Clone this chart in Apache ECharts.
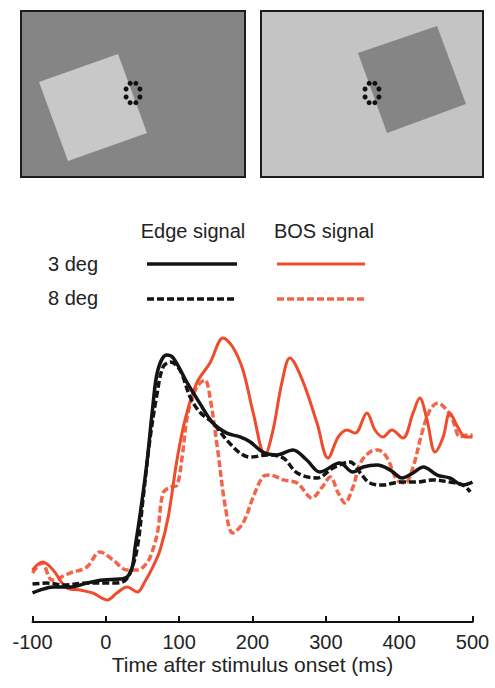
<!DOCTYPE html>
<html>
<head>
<meta charset="utf-8">
<script src="https://cdn.jsdelivr.net/npm/echarts@6/dist/echarts.min.js"></script>
<style>
html,body{margin:0;padding:0;background:#fff;}
#chart{width:495px;height:688px;}
</style>
</head>
<body>
<div id="chart"></div>
<script>
// Time after stimulus onset (ms), normalized response
var xTicks = [-100, 0, 100, 200, 300, 400, 500];
var xTitle = 'Time after stimulus onset (ms)';
var columnLabels = ['Edge signal', 'BOS signal'];
var rowLabels = ['3 deg', '8 deg'];

var edge3deg = [
  [-100,-0.029],[-90,-0.017],[-72,-0.004],[-49,-0.004],[-26,0.012],[-4,0.025],[19,0.029],[29,0.037],
  [36,0.079],[40,0.162],[47,0.304],[56,0.512],[64,0.746],[71,0.9],[83,0.962],[92,0.95],[111,0.846],
  [128,0.762],[146,0.679],[165,0.637],[183,0.621],[197,0.6],[214,0.558],[233,0.546],[255,0.567],
  [274,0.525],[292,0.475],[319,0.512],[337,0.475],[351,0.496],[370,0.504],[388,0.483],[404,0.45],
  [419,0.471],[433,0.496],[452,0.462],[469,0.45],[487,0.421],[500,0.433]
];
var edge8deg = [
  [-100,0.008],[-80,0.012],[-58,0.004],[-26,0.012],[6,0.012],[23,0.017],[33,0.054],[43,0.162],
  [51,0.371],[60,0.608],[70,0.804],[78,0.912],[88,0.933],[101,0.9],[115,0.787],[128,0.725],
  [146,0.679],[165,0.608],[183,0.554],[197,0.537],[220,0.546],[242,0.533],[261,0.471],[288,0.45],
  [310,0.492],[333,0.517],[347,0.471],[360,0.429],[378,0.421],[401,0.433],[424,0.433],[446,0.442],
  [469,0.433],[487,0.421],[497,0.392]
];
var bos3deg = [
  [-100,0.067],[-86,0.1],[-72,0.067],[-53,-0.008],[-35,-0.017],[-18,-0.029],[2,-0.058],[15,-0.029],
  [29,-0.004],[43,-0.025],[53,0.017],[64,0.079],[74,0.15],[85,0.287],[97,0.525],[108,0.692],
  [124,0.846],[142,0.929],[160,1.033],[173,0.996],[187,0.9],[201,0.721],[217,0.546],[228,0.65],
  [240,0.846],[251,0.95],[268,0.858],[288,0.679],[303,0.533],[317,0.621],[329,0.65],[340,0.637],
  [356,0.721],[367,0.65],[378,0.621],[390,0.65],[405,0.617],[419,0.721],[428,0.783],[438,0.692],
  [449,0.558],[460,0.621],[469,0.721],[480,0.662],[490,0.621],[500,0.621]
];
var bos8deg = [
  [-100,0.054],[-87,0.096],[-73,0.025],[-49,0.054],[-26,0.079],[-8,0.142],[10,0.108],[29,0.067],
  [43,0.067],[56,0.096],[64,0.15],[71,0.233],[78,0.387],[88,0.412],[97,0.42],[104,0.537],[112,0.721],
  [124,0.829],[135,0.858],[142,0.787],[152,0.579],[163,0.329],[173,0.221],[187,0.262],[201,0.371],
  [214,0.454],[224,0.462],[242,0.442],[261,0.429],[281,0.367],[295,0.412],[306,0.454],[317,0.387],
  [326,0.346],[337,0.412],[347,0.512],[360,0.558],[371,0.567],[383,0.537],[397,0.442],[408,0.429],
  [419,0.496],[431,0.637],[442,0.733],[453,0.762],[465,0.733],[473,0.692],[483,0.621],[493,0.629],[500,0.629]
];

var BLACK = '#141414';
var RED = '#ef4b2c';
var RED_D = '#f36549';
var TXT = '#232323';
var FONT = 'Liberation Sans, Arial, sans-serif';

function dots(cx, cy) {
  var arr = [];
  for (var k = 0; k < 8; k++) {
    var a = k * Math.PI / 4 + Math.PI / 8;
    arr.push({type:'circle', shape:{cx: cx + 7.5*Math.cos(a), cy: cy + 10.5*Math.sin(a), r: 2.5},
      style:{fill:'#111'}, z: 10});
  }
  return arr;
}

var graphics = [
  // left panel
  {type:'rect', shape:{x:21, y:11, width:224, height:166}, style:{fill:'#858585', stroke:'#1c1c1c', lineWidth:2}},
  {type:'polygon', shape:{points:[[39,82],[118,54],[147,133],[68,161]]}, style:{fill:'#c8c8c8'}},
  // right panel
  {type:'rect', shape:{x:261, y:11, width:222, height:166}, style:{fill:'#c4c4c4', stroke:'#1c1c1c', lineWidth:2}},
  {type:'polygon', shape:{points:[[358,53],[437,26],[466,104],[387,133]]}, style:{fill:'#858585'}},
  // legend table
  {type:'text', x:193, y:231, style:{text:columnLabels[0], font:'20px ' + FONT, fill:TXT, align:'center', verticalAlign:'middle'}},
  {type:'text', x:324, y:231, style:{text:columnLabels[1], font:'20px ' + FONT, fill:TXT, align:'center', verticalAlign:'middle'}},
  {type:'text', x:73, y:264, style:{text:rowLabels[0], font:'20px ' + FONT, fill:TXT, align:'center', verticalAlign:'middle'}},
  {type:'text', x:73, y:298, style:{text:rowLabels[1], font:'20px ' + FONT, fill:TXT, align:'center', verticalAlign:'middle'}},
  {type:'line', shape:{x1:147, y1:264, x2:237, y2:264}, style:{stroke:BLACK, lineWidth:3.5}},
  {type:'line', shape:{x1:277, y1:264, x2:365, y2:264}, style:{stroke:RED, lineWidth:3}},
  {type:'line', shape:{x1:147, y1:299, x2:237, y2:299}, style:{stroke:BLACK, lineWidth:3.5, lineDash:[7,3]}},
  {type:'line', shape:{x1:277, y1:299, x2:365, y2:299}, style:{stroke:RED_D, lineWidth:3.5, lineDash:[7,3]}}
].concat(dots(133, 93)).concat(dots(372, 93));

var chart = echarts.init(document.getElementById('chart'), null, {renderer:'svg'});
chart.setOption({
  animation: false,
  backgroundColor: '#fff',
  grid: {left: 32.5, right: 22.5, top: 310, bottom: 66},
  xAxis: {
    type: 'value', min: -100, max: 500, interval: 100,
    name: xTitle, nameLocation: 'middle', nameGap: 32,
    nameTextStyle: {fontSize: 21, color: TXT, fontFamily: FONT},
    axisLine: {show: true, onZero: false, lineStyle: {color: '#111', width: 2}},
    axisTick: {show: true, inside: true, length: 6, lineStyle: {color: '#111', width: 2}},
    axisLabel: {fontSize: 20, color: TXT, fontFamily: FONT, margin: 10,
      formatter: function (v) { return xTicks.indexOf(v) >= 0 ? String(v) : ''; }},
    splitLine: {show: false}
  },
  yAxis: {
    type: 'value', min: -0.15, max: 1.15, show: false,
    splitLine: {show: false}
  },
  graphic: graphics,
  series: [
    {name:'Edge 8 deg', type:'line', data: edge8deg, smooth: 0.35, symbol:'none',
      lineStyle:{color:BLACK, width:3.5, type:[7,3]}, z: 3},
    {name:'BOS 8 deg', type:'line', data: bos8deg, smooth: 0.35, symbol:'none',
      lineStyle:{color:RED_D, width:3.5, type:[7,3]}, z: 2},
    {name:'Edge 3 deg', type:'line', data: edge3deg, smooth: 0.35, symbol:'none',
      lineStyle:{color:BLACK, width:3.5}, z: 4},
    {name:'BOS 3 deg', type:'line', data: bos3deg, smooth: 0.35, symbol:'none',
      lineStyle:{color:RED, width:3}, z: 2}
  ]
});
</script>
</body>
</html>
